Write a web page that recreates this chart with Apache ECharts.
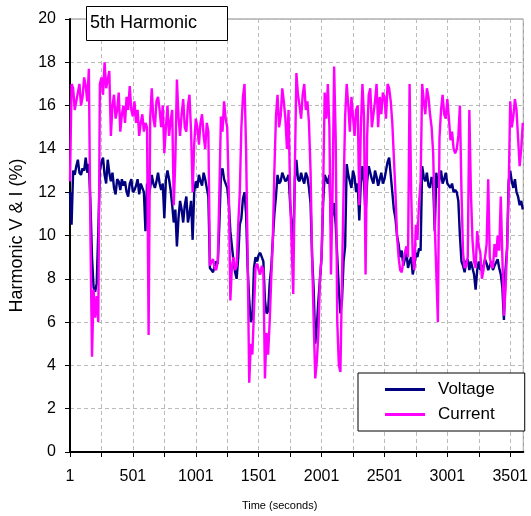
<!DOCTYPE html>
<html>
<head>
<meta charset="utf-8">
<script src="https://cdn.jsdelivr.net/npm/echarts@6/dist/echarts.min.js"></script>
<style>
  html, body { margin: 0; padding: 0; background: #fff; }
  #chart { width: 531px; height: 516px; }
</style>
</head>
<body>
<div id="chart"></div>
<script>
// one reading every 12.5 s, first at t = 1
const timeStep = 12.5;

const voltage = [
  12.0, 10.5, 13.0, 12.8, 13.2, 13.5, 12.9, 12.8, 13.1, 13.0,
  13.6, 12.9, 13.3, 11.5, 9.0, 7.6, 7.4, 7.8, 10.2, 13.0,
  13.4, 13.6, 12.8, 12.4, 13.5, 12.9, 12.5, 12.9, 12.2, 11.9,
  12.6, 12.5, 12.1, 12.6, 12.3, 12.5, 12.0, 11.8, 12.4, 12.6,
  12.0, 12.1, 12.3, 12.6, 11.9, 12.4, 12.2, 12.0, 10.2, 12.4,
  11.8, 12.2, 12.8, 12.4, 12.2, 12.5, 12.9, 12.4, 12.1, 12.4,
  10.8, 12.6, 13.0, 12.6, 12.1, 11.4, 10.6, 11.2, 9.5, 10.8,
  11.6, 11.2, 10.6, 11.4, 11.8, 10.6, 11.0, 11.6, 9.8, 12.0,
  12.5, 12.2, 12.8, 12.5, 12.3, 12.9, 12.6, 12.2, 11.8, 8.5,
  8.4, 8.3, 8.6, 8.8, 8.7, 10.5, 12.8, 13.1, 12.6, 12.4,
  12.2, 11.5, 10.2, 9.5, 8.8, 8.3, 8.0, 9.0, 10.5, 10.8,
  11.7, 12.0, 11.0, 8.5, 7.0, 6.0, 6.2, 8.5, 9.0, 8.8,
  9.1, 9.2, 9.0, 8.8, 7.0, 6.4, 6.5, 7.8, 8.5, 9.8,
  11.0, 11.8, 12.8, 12.4, 12.5, 12.9, 12.9, 12.5, 12.6, 12.8,
  11.5, 10.5, 9.3, 12.6, 13.5, 12.6, 12.5, 12.9, 12.6, 12.4,
  12.9, 12.7, 12.2, 11.5, 9.0, 7.5, 5.0, 5.8, 7.0, 8.0,
  9.0, 11.5, 12.8, 12.6, 12.4, 12.8, 10.5, 11.0, 11.5, 10.5,
  9.0, 7.5, 6.4, 7.0, 8.8, 9.5, 13.3, 12.8, 12.5, 12.2,
  13.0, 12.7, 12.0, 12.4, 10.7, 12.5, 13.2, 12.4, 11.0, 12.5,
  13.2, 12.9, 12.6, 12.4, 13.0, 12.7, 12.3, 12.6, 12.9, 12.4,
  12.6, 13.0, 13.4, 13.6, 12.8, 12.0, 11.2, 10.8, 10.0, 9.6,
  9.0, 9.3, 8.6, 8.9, 9.2, 8.5, 8.8, 9.0, 8.2, 8.6,
  9.2, 9.0, 9.4, 9.3, 13.2, 12.7, 12.5, 12.9, 12.3, 12.2,
  12.7, 12.4, 10.2, 12.9, 12.2, 12.6, 13.0, 12.4, 12.6, 12.9,
  12.4, 12.3, 12.2, 12.4, 12.0, 12.1, 12.0, 11.6, 10.0, 8.8,
  8.6, 8.3, 8.8, 8.9, 8.4, 8.8, 8.5, 8.2, 7.5, 8.4,
  8.8, 8.4, 8.5, 8.6, 8.9, 8.7, 8.4, 8.6, 8.8, 8.4,
  8.6, 8.6, 8.9, 8.5, 8.2, 7.6, 6.1, 8.4, 9.4, 12.5,
  13.0, 12.5, 12.2, 12.6, 12.0, 11.8, 11.4, 11.6, 11.2
];

const current = [
  12.5, 17.0, 16.8, 15.8, 16.2, 16.6, 17.0, 16.0, 16.4, 17.3,
  16.9, 16.2, 17.7, 10.0, 4.4, 7.5, 6.2, 7.2, 6.0, 17.0,
  17.3, 16.5, 18.0, 16.8, 17.2, 17.6, 14.6, 16.0, 16.5, 15.4,
  15.8, 16.6, 14.8, 15.6, 16.0, 15.2, 16.4, 15.8, 16.9, 15.8,
  15.5, 16.2, 15.2, 15.8, 14.6, 15.2, 15.6, 14.8, 15.2, 15.0,
  5.4, 15.4, 16.8, 15.4, 15.0, 16.2, 16.4, 15.8, 15.0, 16.0,
  13.8, 15.0, 16.0, 14.6, 15.3, 15.8, 11.4, 13.5, 17.2, 15.5,
  14.6, 15.6, 16.3, 15.0, 14.8, 16.0, 16.5, 14.8, 12.0, 14.2,
  15.4, 15.0, 14.2, 15.2, 15.6, 14.6, 14.0, 15.2, 14.8, 8.6,
  8.8, 8.9, 8.5, 8.4, 8.8, 12.0, 15.5, 14.8, 16.2, 15.4,
  15.0, 12.0, 7.0, 8.6, 9.0, 8.4, 8.6, 10.5, 12.0, 15.0,
  16.4, 17.0, 14.0, 9.0, 3.2, 5.0, 4.5, 6.5, 8.5, 8.7,
  8.4, 8.2, 8.6, 8.4, 3.4, 5.5, 4.5, 6.0, 8.0, 9.8,
  13.0, 15.5, 16.5, 15.0, 15.5, 16.8, 16.2, 15.4, 14.0, 15.8,
  12.0, 9.5, 7.3, 13.0, 17.5, 16.5, 16.0, 15.4, 16.5, 17.0,
  15.8, 16.2, 15.2, 13.0, 9.0, 6.0, 3.4, 4.2, 5.5, 8.0,
  9.0, 12.0, 16.6, 15.4, 17.0, 15.0, 8.2, 12.0, 17.8, 14.5,
  6.0, 4.0, 3.7, 8.0, 12.0, 15.5, 17.0, 16.0, 14.8, 16.4,
  15.5, 14.6, 15.8, 16.0, 11.4, 15.0, 17.0, 15.5, 8.2, 14.6,
  16.5, 16.8, 15.0, 15.6, 16.2, 17.0, 15.0, 16.4, 15.6, 16.6,
  16.4, 15.4, 17.0, 16.8, 16.2, 15.2, 13.6, 12.0, 10.0, 9.0,
  8.4, 8.3, 8.8, 9.2, 9.5, 9.0, 17.0, 12.0, 9.0, 8.4,
  10.5, 9.8, 11.5, 12.5, 17.0, 16.2, 15.6, 16.8, 16.4, 15.6,
  15.0, 13.8, 10.5, 10.5, 6.0, 14.5, 15.8, 16.5, 15.6, 15.4,
  16.3, 15.4, 14.4, 14.8, 14.0, 13.8, 14.0, 14.6, 16.0, 12.0,
  9.2, 8.5, 8.6, 9.0, 15.8, 12.0, 9.8, 8.8, 8.5, 10.2,
  9.5, 9.2, 8.0, 8.4, 9.0, 9.6, 12.6, 9.0, 8.6, 8.5,
  9.6, 9.0, 10.0, 9.3, 11.8, 9.0, 6.3, 7.5, 9.4, 12.0,
  16.2, 15.0, 15.5, 16.3, 15.8, 14.5, 13.2, 14.0, 15.2
];

const yTicks = [0, 2, 4, 6, 8, 10, 12, 14, 16, 18, 20];

const times = voltage.map((_, i) => 1 + i * timeStep);
const pair = (vals) => vals.map((v, i) => [times[i], v]);

const myChart = echarts.init(document.getElementById('chart'), null, { renderer: 'canvas' });

const font = 'Liberation Sans, Arial, sans-serif';

const option = {
  animation: false,
  backgroundColor: '#fff',
  title: {
    text: '5th Harmonic',
    left: 86,
    top: 6,
    padding: [8, 31, 9, 4],
    borderColor: '#000',
    borderWidth: 1,
    backgroundColor: '#fff',
    textStyle: { fontFamily: font, fontSize: 18, fontWeight: 'normal', color: '#000' }
  },
  legend: {
    orient: 'vertical',
    left: 358,
    top: 373,
    padding: [8, 30, 8, 27],
    itemGap: 8,
    itemWidth: 40,
    itemHeight: 3,
    icon: 'rect',
    borderColor: '#000',
    borderWidth: 1,
    backgroundColor: '#fff',
    textStyle: { fontFamily: font, fontSize: 17, color: '#000', padding: [0, 0, 0, 8] },
    data: ['Voltage', 'Current']
  },
  grid: {
    left: 69.5,
    right: 6,
    top: 19,
    bottom: 63,
    show: true,
    borderColor: '#888',
    borderWidth: 1
  },
  xAxis: {
    type: 'value',
    min: 1,
    max: 3605,
    interval: 250,
    name: 'Time (seconds)',
    nameLocation: 'middle',
    nameGap: 48,
    nameTextStyle: { fontFamily: font, fontSize: 11, color: '#000', padding: [0, 34, 0, 0] },
    axisLine: { lineStyle: { color: '#000', width: 2 } },
    axisTick: { show: true, inside: false, length: 5, lineStyle: { color: '#000', width: 1 } },
    axisLabel: {
      fontFamily: font, fontSize: 16, color: '#000', margin: 17,
      formatter: (v) => ((v - 1) % 500 === 0 ? String(v) : ''),
      showMaxLabel: false
    },
    splitLine: { show: true, lineStyle: { color: '#bbb', type: [4, 3], width: 1 } }
  },
  yAxis: {
    type: 'value',
    min: yTicks[0],
    max: yTicks[yTicks.length - 1],
    interval: 2,
    name: 'Harmonic V & I (%)',
    nameLocation: 'middle',
    nameGap: 44,
    nameTextStyle: { fontFamily: font, fontSize: 18, color: '#000' },
    axisLine: { show: true, lineStyle: { color: '#000', width: 2 } },
    axisTick: { show: true, inside: false, length: 5, lineStyle: { color: '#000', width: 1 } },
    axisLabel: { fontFamily: font, fontSize: 16, color: '#000', margin: 14 },
    splitLine: { show: true, lineStyle: { color: '#bbb', type: [4, 3], width: 1 } }
  },
  series: [
    {
      name: 'Voltage',
      type: 'line',
      data: pair(voltage),
      showSymbol: false,
      lineStyle: { color: '#000080', width: 2.4 },
      itemStyle: { color: '#000080' }
    },
    {
      name: 'Current',
      type: 'line',
      data: pair(current),
      showSymbol: false,
      lineStyle: { color: '#ff00ff', width: 2.4 },
      itemStyle: { color: '#ff00ff' }
    }
  ]
};

option && myChart.setOption(option);
</script>
</body>
</html>
